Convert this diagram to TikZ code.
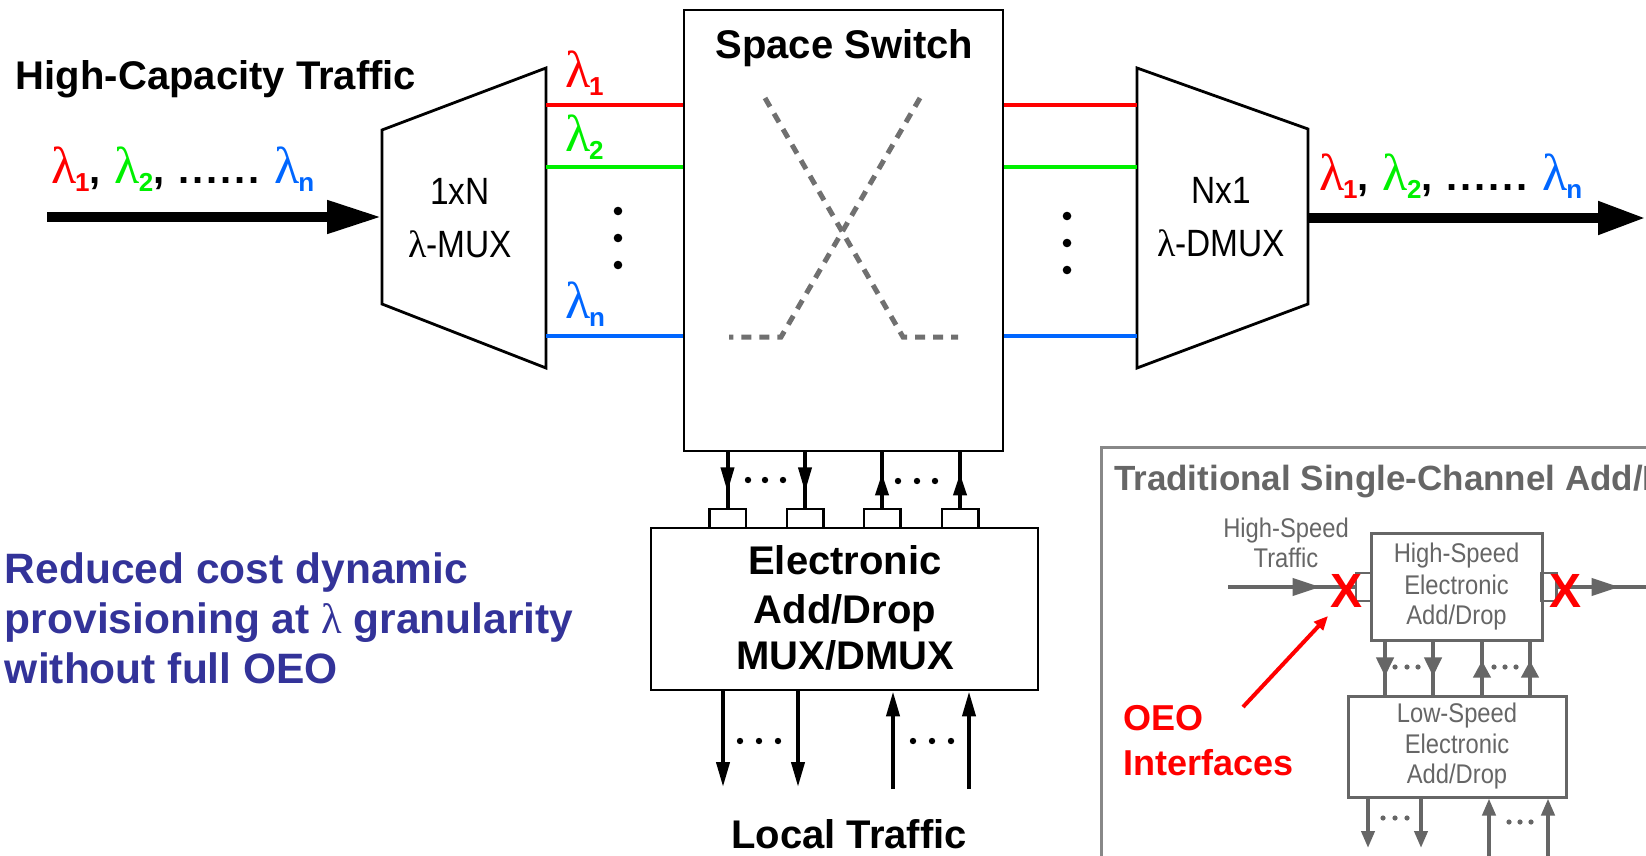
\documentclass[tikz,border=0pt]{standalone}
\usepackage{fontspec}
\setmainfont{Liberation Sans}
\newfontfamily\narrowfont[FakeStretch=0.88]{Liberation Sans}
\newfontfamily\lamfont{Liberation Serif}
\usetikzlibrary{arrows.meta,decorations.markings}
\definecolor{lred}{HTML}{FF0000}
\definecolor{lgreen}{HTML}{00F000}
\definecolor{lblue}{HTML}{0066FF}
\definecolor{navy}{HTML}{333399}
\definecolor{insetgray}{HTML}{666666}
\definecolor{framegray}{HTML}{888888}
\definecolor{dashgray}{HTML}{707070}
\newcommand{\lamsub}[2]{{\color{#1}{\lamfont\mdseries\fontsize{52}{52}\selectfont λ}\kern-1pt\raisebox{-8pt}{\bfseries\fontsize{26}{26}\selectfont #2}}}
\newcommand{\sixdots}{.\kern2.8pt.\kern2.8pt.\kern2.8pt.\kern2.8pt.\kern2.8pt.}
\newcommand{\lamrow}{\lamsub{lred}{1},\kern14pt\lamsub{lgreen}{2},\kern14pt\sixdots\kern15pt\lamsub{lblue}{n}}
\tikzset{
  txt/.style={inner sep=0pt, outer sep=0pt},
  bigfont/.style={font=\bfseries\fontsize{40}{48}\selectfont},
  muxfont/.style={font=\narrowfont\fontsize{38}{42}\selectfont},
  smallfont/.style={font=\narrowfont\fontsize{27}{30}\selectfont, text=insetgray},
  blk/.style={draw=black, line width=2.8pt, fill=white, line join=miter},
  port/.style={draw=black, line width=2.5pt, inner sep=0pt, minimum width=36.5pt, minimum height=19pt},
  vline/.style={draw=black, line width=4pt},
  gline/.style={draw=insetgray, line width=4pt},
  gbox/.style={draw=insetgray, line width=3pt, inner sep=0pt},
  gport/.style={draw=insetgray, line width=2.5pt, inner sep=0pt, minimum width=15pt, minimum height=28pt},
  markat/.style 2 args={postaction={decorate}, decoration={markings,
      mark=at position #1 with {\arrow{Triangle[length=#2, width=13pt]}}}},
  gmarkat/.style 2 args={postaction={decorate}, decoration={markings,
      mark=at position #1 with {\arrow[insetgray]{Triangle[length=#2, width=17pt]}}}},
}
\begin{document}
\begin{tikzpicture}[x=1pt, y=-1pt]
\useasboundingbox (0,0) rectangle (1646,856);
\clip (0,0) rectangle (1646,856);

% ---------------- left input ----------------
\node[txt, bigfont, anchor=base west] (hct) at (16,90) {High-Capacity Traffic};
\node[txt, bigfont, anchor=base west] (inlam) at (51,183) {\lamrow};

% MUX trapezoid
\coordinate (muxTL) at (382,130);
\coordinate (muxTR) at (546,68);
\coordinate (muxBR) at (546,368);
\coordinate (muxBL) at (382,304);
\draw[blk] (muxTL) -- (muxTR) -- (muxBR) -- (muxBL) -- cycle;
\node[txt, muxfont, anchor=base] (muxa) at (460,204) {1xN};
\node[txt, muxfont, anchor=base] (muxb) at (460,257) {{\lamfont λ}-MUX};

\coordinate (inA) at (47,217);
\coordinate (muxL) at (382,217);
\draw[line width=10.5pt, -{Triangle[length=55pt, width=31pt]}] (inA) -- (muxL);

% ---------------- space switch ----------------
\node[blk, minimum width=319pt, minimum height=441pt, inner sep=0pt] (ss) at (843.5,230.5) {};
\node[txt, bigfont, anchor=base] (sst) at (844.5,59) {Space Switch};

% coloured lines left
\coordinate (m1) at (546,105);
\coordinate (m2) at (546,167);
\coordinate (m3) at (546,336);
\draw[lred, line width=4.5pt] (m1) -- (m1 -| ss.west);
\draw[lgreen, line width=4.5pt] (m2) -- (m2 -| ss.west);
\draw[lblue, line width=4.5pt] (m3) -- (m3 -| ss.west);
\node[txt, anchor=base west] (l1) at (565,88) {\lamsub{lred}{1}};
\node[txt, anchor=base west] (l2) at (565,152) {\lamsub{lgreen}{2}};
\node[txt, anchor=base west] (l3) at (565,318) {\lamsub{lblue}{n}};
\foreach \yy in {211,238,265} \fill (618,\yy) circle (4.3pt);

% DMUX trapezoid
\coordinate (dmTL) at (1137,68);
\coordinate (dmTR) at (1308,129);
\coordinate (dmBR) at (1308,304);
\coordinate (dmBL) at (1137,368);
\draw[blk] (dmTL) -- (dmTR) -- (dmBR) -- (dmBL) -- cycle;
\node[txt, muxfont, anchor=base] (dma) at (1221,203) {Nx1};
\node[txt, muxfont, anchor=base] (dmb) at (1221,256) {{\lamfont λ}-DMUX};

% coloured lines right
\coordinate (d1) at (1137,105);
\coordinate (d2) at (1137,167);
\coordinate (d3) at (1137,336);
\draw[lred, line width=4.5pt] (d1 -| ss.east) -- (d1);
\draw[lgreen, line width=4.5pt] (d2 -| ss.east) -- (d2);
\draw[lblue, line width=4.5pt] (d3 -| ss.east) -- (d3);
\foreach \yy in {216,243,270} \fill (1067,\yy) circle (4.3pt);

% dashed cross inside switch
\draw[dashgray, line width=5pt, dash pattern=on 10pt off 8pt] (765,98) -- (903,337) -- (958,337);
\draw[dashgray, line width=5pt, dash pattern=on 10pt off 8pt] (920,98) -- (781,337) -- (729,337);

% output
\coordinate (outR) at (1646,218);
\coordinate (dmR) at (1308,218);
\draw[line width=10.5pt, -{Triangle[length=48pt, width=31pt]}] (dmR) -- (outR);
\node[txt, bigfont, anchor=base west] (outlam) at (1319,190) {\lamrow};

% ---------------- electronic add/drop ----------------
\node[blk, minimum width=387pt, minimum height=162pt, inner sep=0pt] (eb) at (844.5,609) {};
\node[txt, bigfont, anchor=base] (eb1) at (845,574) {Electronic};
\node[txt, bigfont, anchor=base] (eb2) at (845,623) {Add/Drop};
\node[txt, bigfont, anchor=base] (eb3) at (845,669) {MUX/DMUX};

\node[port, fill=white] (p1) at (727.5,518.5) {};
\node[port, fill=white] (p2) at (805,518.5) {};
\node[port, fill=white] (p3) at (882,518.5) {};
\node[port, fill=white] (p4) at (960,518.5) {};
\draw[vline, markat={0.72}{25pt}] (ss.south -| p1) -- (p1.north);
\draw[vline, markat={0.72}{25pt}] (ss.south -| p2) -- (p2.north);
\draw[vline, markat={0.62}{22pt}] (p3.north) -- (ss.south -| p3);
\draw[vline, markat={0.62}{22pt}] (p4.north) -- (ss.south -| p4);
\foreach \xx in {748,765,783} \fill (\xx,480) circle (3.2pt);
\foreach \xx in {898,917,935} \fill (\xx,481) circle (3.2pt);

% local traffic
\coordinate (lo1) at (723,787);
\coordinate (lo2) at (798,787);
\coordinate (la1) at (893,789);
\coordinate (la2) at (969,789);
\draw[vline, -{Triangle[length=25pt, width=13pt]}] (eb.south -| lo1) -- (lo1);
\draw[vline, -{Triangle[length=25pt, width=13pt]}] (eb.south -| lo2) -- (lo2);
\draw[vline, -{Triangle[length=25pt, width=13pt]}] (la1) -- (eb.south -| la1);
\draw[vline, -{Triangle[length=25pt, width=13pt]}] (la2) -- (eb.south -| la2);
\foreach \xx in {740,759,778} \fill (\xx,741) circle (3.2pt);
\foreach \xx in {913,932,951} \fill (\xx,741) circle (3.2pt);
\node[txt, bigfont, anchor=base] (lt) at (849,848) {Local Traffic};

% ---------------- blue note ----------------
\node[txt, anchor=base west, text=navy, font=\bfseries\fontsize{42.5}{50}\selectfont] (n1) at (5,583) {Reduced cost dynamic};
\node[txt, anchor=base west, text=navy, font=\bfseries\fontsize{42.5}{50}\selectfont] (n2) at (5,633) {provisioning at {\lamfont\mdseries λ} granularity};
\node[txt, anchor=base west, text=navy, font=\bfseries\fontsize{42.5}{50}\selectfont] (n3) at (5,683) {without full OEO};

% ---------------- inset ----------------
\draw[framegray, line width=3pt] (1101,900) -- (1101,447) -- (1700,447);
\node[txt, anchor=base west, text=insetgray, font=\bfseries\fontsize{35}{40}\selectfont] (it) at (1114,490) {Traditional Single-Channel Add/Drop};
\node[txt, smallfont, anchor=base] (hst1) at (1286,537) {High-Speed};
\node[txt, smallfont, anchor=base] (hst2) at (1286,567) {Traffic};

\node[gbox, fill=white, minimum width=171pt, minimum height=107pt] (hs) at (1456.5,586.5) {};
\node[txt, smallfont, anchor=base] (hs1) at (1456.5,562) {High-Speed};
\node[txt, smallfont, anchor=base] (hs2) at (1456.5,594) {Electronic};
\node[txt, smallfont, anchor=base] (hs3) at (1456.5,624) {Add/Drop};
\node[gport] (hp1) at (1363.5,587) {};
\node[gport] (hp2) at (1549,587) {};

\coordinate (hin) at (1228,587);
\coordinate (hout) at (1646,587);
\draw[gline, gmarkat={0.73}{28pt}] (hin) -- (hp1.west);
\draw[gline, gmarkat={0.70}{28pt}] (hp2.east) -- (hout);

\node[gbox, fill=white, minimum width=218pt, minimum height=101pt] (ls) at (1457,746.5) {};
\node[txt, smallfont, anchor=base] (ls1) at (1457,722) {Low-Speed};
\node[txt, smallfont, anchor=base] (ls2) at (1457,753) {Electronic};
\node[txt, smallfont, anchor=base] (ls3) at (1457,783) {Add/Drop};

\coordinate (v1) at (1385,0);
\coordinate (v2) at (1433,0);
\coordinate (v3) at (1482,0);
\coordinate (v4) at (1530,0);
\draw[gline, gmarkat={0.66}{19pt}] (hs.south -| v1) -- (ls.north -| v1);
\draw[gline, gmarkat={0.66}{19pt}] (hs.south -| v2) -- (ls.north -| v2);
\draw[gline, gmarkat={0.64}{17pt}] (ls.north -| v3) -- (hs.south -| v3);
\draw[gline, gmarkat={0.64}{17pt}] (ls.north -| v4) -- (hs.south -| v4);
\foreach \xx in {1395,1407,1418} \fill[insetgray] (\xx,667) circle (2.6pt);
\foreach \xx in {1494,1505,1516} \fill[insetgray] (\xx,667) circle (2.6pt);

\coordinate (b1) at (1368,848);
\coordinate (b2) at (1421,848);
\coordinate (b3) at (1489,860);
\coordinate (b4) at (1548,860);
\draw[gline, -{Triangle[length=17pt, width=13pt]}, insetgray] (ls.south -| b1) -- (b1);
\draw[gline, -{Triangle[length=17pt, width=13pt]}, insetgray] (ls.south -| b2) -- (b2);
\draw[gline, -{Triangle[length=17pt, width=13pt]}, insetgray] (b3) -- (ls.south -| b3);
\draw[gline, -{Triangle[length=17pt, width=13pt]}, insetgray] (b4) -- (ls.south -| b4);
\foreach \xx in {1383,1395,1407} \fill[insetgray] (\xx,818) circle (2.6pt);
\foreach \xx in {1509,1520,1531} \fill[insetgray] (\xx,822) circle (2.6pt);

\node[txt, text=lred, font=\bfseries\fontsize{48}{48}\selectfont] (xl) at (1346,591) {X};
\node[txt, text=lred, font=\bfseries\fontsize{48}{48}\selectfont] (xr) at (1565,591) {X};

\node[txt, anchor=base west, text=lred, font=\bfseries\fontsize{36}{42}\selectfont] (oeo1) at (1123,730) {OEO};
\node[txt, anchor=base west, text=lred, font=\bfseries\fontsize{36}{42}\selectfont] (oeo2) at (1123,775) {Interfaces};
\coordinate (oeoA) at (1243,707);
\coordinate (oeoB) at (1328,616);
\draw[lred, line width=4pt, -{Triangle[length=14pt, width=12pt]}] (oeoA) -- (oeoB);
\end{tikzpicture}
\end{document}
